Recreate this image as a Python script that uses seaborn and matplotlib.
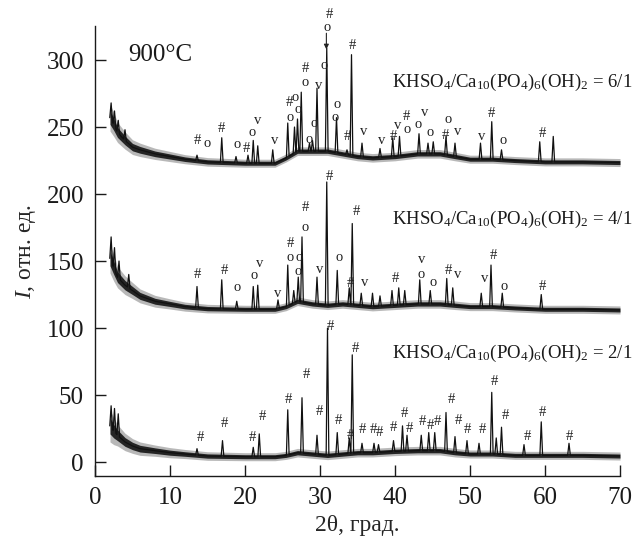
import numpy as np
import pandas as pd
import matplotlib
matplotlib.use("Agg")
import matplotlib.pyplot as plt
import seaborn as sns

# ---------------------------------------------------------------- data
# Background anchors (2θ, degrees) shared by the three patterns
base_x = [2.0, 2.5, 3, 4, 5, 6, 8, 10, 12, 15, 20, 24, 25.5, 27, 29, 31, 33,
          35, 37, 40, 43, 46, 48, 50, 53, 56, 60, 65, 70]

# KHSO4/HAP = 2/1
base_21 = [27, 23, 20, 15, 12, 10, 8.5, 7, 6, 4.5, 4, 4, 5, 7, 6, 5, 6,
           7, 7, 8, 8.5, 8.5, 7, 6, 6, 5, 5, 5, 4.5]
noise_21 = [12, 10, 8, 6.5, 5.5, 5, 4.2, 3.8, 3.4, 3.2, 3, 3, 3, 3.2, 3.2, 3.2, 3.2,
            3.2, 3.2, 3.2, 3.2, 3.2, 3.2, 3, 3, 3, 3, 3, 3]
peak_21_pos = [2.15, 2.6, 3.1, 13.6, 17.0, 21.1, 21.9, 25.7, 27.6, 29.6, 31.0, 32.3,
               33.9, 34.3, 35.6, 37.2, 37.8, 39.8, 41.0, 41.6, 43.5, 44.5, 45.3,
               46.8, 48.0, 49.6, 51.2, 52.9, 53.5, 54.2, 57.2, 59.5, 63.2]
peak_21_top = [42, 40, 36, 10, 16, 11, 21, 39, 48, 20, 100, 22,
               18, 80, 14, 14, 13, 16, 27, 20, 20, 22, 22,
               37, 19, 16, 14, 52, 18, 26, 13, 30, 14]

# KHSO4/HAP = 4/1
base_41 = [152, 145, 138, 132, 128, 124, 120, 118, 116, 114.5, 114, 114, 116, 120, 118, 117, 118,
           117, 116, 117, 118, 118, 117, 116, 116, 115, 114, 114, 113.5]
noise_41 = [11, 10, 8, 7, 6, 5.2, 4.4, 3.8, 3.4, 3.2, 3, 3, 3, 3.2, 3.2, 3.2, 3.2,
            3.2, 3.2, 3.2, 3.2, 3.2, 3.2, 3, 3, 3, 3, 3, 3]
peak_41_pos = [2.15, 2.6, 3.2, 4.5, 13.6, 16.9, 18.9, 21.1, 21.7, 24.4, 25.7, 26.5,
               27.1, 27.6, 29.6, 30.9, 32.3, 33.9, 34.3, 35.5, 37.0, 38.0, 39.6,
               40.5, 41.3, 43.3, 44.7, 46.9, 47.7, 51.5, 52.8, 54.3, 59.5]
peak_41_top = [168, 160, 150, 140, 131, 136, 120, 131, 132, 121, 147, 128,
               138, 168, 138, 209, 143, 130, 178, 126, 126, 124, 128,
               130, 128, 136, 128, 137, 130, 126, 147, 126, 125]

# KHSO4/HAP = 6/1
base_61 = [257, 252, 246, 240, 235, 233, 230, 228, 226, 224, 223, 223, 227, 232, 232, 232, 230,
           228, 227, 228, 230, 230, 228, 226, 226, 225, 224, 224, 223.5]
noise_61 = [10, 9, 7.5, 6.5, 5.5, 5, 4.2, 3.8, 3.4, 3.2, 3, 3, 3, 3.2, 3.2, 3.2, 3.2,
            3.2, 3.2, 3.2, 3.2, 3.2, 3.2, 3, 3, 3, 3, 3, 3]
peak_61_pos = [2.15, 2.6, 3.1, 4.0, 13.6, 16.9, 18.8, 20.4, 21.1, 21.7, 23.7, 25.7,
               26.6, 27.0, 27.5, 28.6, 29.0, 29.6, 30.9, 32.2, 33.6, 34.2, 35.6,
               38.0, 39.7, 40.6, 43.2, 44.4, 45.1, 46.8, 48.0, 51.4, 52.9, 54.2,
               59.3, 61.1]
peak_61_top = [268, 262, 255, 248, 229, 242, 228, 229, 240, 236, 233, 253,
               250, 256, 276, 238, 240, 279, 309, 257, 233, 304, 238,
               234, 242, 243, 245, 238, 239, 243, 238, 238, 254, 233,
               239, 243]

# Phase marks: # , o , v
mark_21_x = [14.0, 17.3, 21.0, 22.3, 25.8, 28.2, 29.9, 31.4, 32.4, 34.0, 34.7, 35.7,
             37.1, 37.9, 39.8, 41.2, 41.9, 43.7, 44.7, 45.6, 47.5, 48.4, 49.7,
             51.6, 53.3, 54.7, 57.6, 59.7, 63.3]
mark_21_y = [18, 29, 18, 34, 47, 65, 38, 101, 31, 20, 85, 24,
             24, 22, 26, 36, 25, 30, 27, 30, 47, 31, 24,
             24, 60, 35, 19, 37, 19]
mark_21_s = "#" * 29

mark_41_x = [13.7, 17.3, 18.9, 21.2, 21.9, 24.4, 26.0, 26.0, 27.2, 27.1, 28.0, 28.0,
             29.9, 31.2, 32.5, 34.1, 34.8, 35.9, 40.1, 43.6, 43.5, 45.1, 47.1,
             48.4, 51.9, 53.1, 54.5, 59.7]
mark_41_y = [140, 143, 130, 139, 148, 126, 163, 153, 153, 142, 190, 175,
             144, 213, 153, 133, 187, 134, 137, 151, 140, 134, 143,
             140, 137, 154, 131, 131]
mark_41_s = "##oovv#ooo#ov#o##v#voo#vv#o#"

mark_61_x = [13.6, 14.9, 16.9, 18.9, 20.2, 21.0, 21.7, 24.0, 25.9, 26.0, 26.7, 27.1,
             28.1, 28.0, 29.2, 28.6, 29.8, 30.5, 32.3, 32.0, 33.7, 34.3, 35.8,
             38.2, 39.8, 40.4, 41.5, 41.6, 43.1, 43.9, 44.7, 46.7, 47.1, 48.4,
             51.6, 52.9, 54.4, 59.7, 31.2, 31.0]
mark_61_y = [240, 238, 249, 237, 234, 246, 255, 240, 268, 257, 272, 263,
             294, 283, 253, 241, 281, 296, 267, 257, 243, 311, 247,
             240, 243, 251, 258, 248, 252, 261, 246, 244, 256, 247,
             243, 260, 240, 245, 334, 324]
mark_61_s = "#o#o#ovv#ooo#ooovooo##vv#v#oovo#ovv#o##o"

labels = ["KHSO$_4$/Ca$_{10}$(PO$_4$)$_6$(OH)$_2$ = 6/1",
          "KHSO$_4$/Ca$_{10}$(PO$_4$)$_6$(OH)$_2$ = 4/1",
          "KHSO$_4$/Ca$_{10}$(PO$_4$)$_6$(OH)$_2$ = 2/1"]
label_y = [283.5, 181, 81]
x_ticks = [0, 10, 20, 30, 40, 50, 60, 70]
y_ticks = [0, 50, 100, 150, 200, 250, 300]

# ---------------------------------------------------------------- style
sns.set_theme(style="ticks")
plt.rcParams["font.family"] = ["Liberation Serif", "DejaVu Serif"]
plt.rcParams["mathtext.fontset"] = "custom"
plt.rcParams["mathtext.rm"] = "Liberation Serif"
plt.rcParams["mathtext.it"] = "Liberation Serif:italic"
plt.rcParams["text.color"] = "#1a1a1a"


def pattern(bx, by, pos, top, w=0.18):
    """Background polyline with each reflection drawn as a sharp spike."""
    bx = np.asarray(bx, float)
    by = np.asarray(by, float)
    keep = [all(abs(x - p) > w for p in pos) for x in bx]
    xs = list(bx[keep])
    ys = list(by[keep])
    for p, t in zip(pos, top):
        for dx in (-w, w):
            xs.append(p + dx)
            ys.append(np.interp(p + dx, bx, by))
        xs.append(p)
        ys.append(t)
    order = np.argsort(xs)
    return pd.DataFrame({"two_theta": np.array(xs)[order], "I": np.array(ys)[order]})


fig = plt.figure(figsize=(6.41, 5.37), dpi=100)
ax = fig.add_axes([95 / 641, 1 - 476 / 537, 525 / 641, 450 / 537])

series = [(base_61, noise_61, peak_61_pos, peak_61_top),
          (base_41, noise_41, peak_41_pos, peak_41_top),
          (base_21, noise_21, peak_21_pos, peak_21_top)]

bxa = np.asarray(base_x, float)
for base, noise, pos, top in series:
    b = np.asarray(base, float)
    n = np.asarray(noise, float)
    # noise band: grey fringe with a dark core
    ax.fill_between(bxa, b - n, b + n, color="0.45", alpha=0.5, lw=0, zorder=2)
    ax.fill_between(bxa, b - 0.5 * n, b + 0.5 * n, color="0.08", alpha=0.9, lw=0, zorder=2)
    df = pattern(base_x, base, pos, top)
    sns.lineplot(data=df, x="two_theta", y="I", sort=False, estimator=None,
                 color="#111111", lw=0.9, ax=ax, zorder=3)

for mx, my, ms in [(mark_61_x, mark_61_y, mark_61_s),
                   (mark_41_x, mark_41_y, mark_41_s),
                   (mark_21_x, mark_21_y, mark_21_s)]:
    for x, y, s in zip(mx, my, ms):
        ax.text(x, y, s, ha="center", va="center", fontsize=10.5,
                color="#222222", clip_on=False, zorder=4)

# arrow to the strongest reflection of the 6/1 pattern
ax.annotate("", xy=(30.85, 308), xytext=(30.85, 320),
            arrowprops=dict(arrowstyle="-|>", lw=0.8, color="#222222",
                            mutation_scale=7, shrinkA=0, shrinkB=0))

for txt, y in zip(labels, label_y):
    ax.text(39.6, y, txt, ha="left", va="center", fontsize=13.5, clip_on=False)

ax.text(4.4, 304, "900°C", ha="left", va="center", fontsize=18)

ax.set_xlim(0, 70)
ax.set_ylim(-10.4, 325.4)
ax.set_xticks(x_ticks)
ax.set_yticks(y_ticks)
ax.tick_params(direction="in", length=8, width=1.0, labelsize=18, pad=8,
               colors="#1a1a1a")
for side in ("top", "right"):
    ax.spines[side].set_visible(False)
for side in ("left", "bottom"):
    ax.spines[side].set_linewidth(1.0)
    ax.spines[side].set_color("#1a1a1a")

ax.set_xlabel("2θ, град.", fontsize=17, labelpad=4)
ax.set_ylabel("$I$, отн. ед.", fontsize=17, labelpad=6)

fig.savefig("out.png", dpi=100, facecolor="white")
